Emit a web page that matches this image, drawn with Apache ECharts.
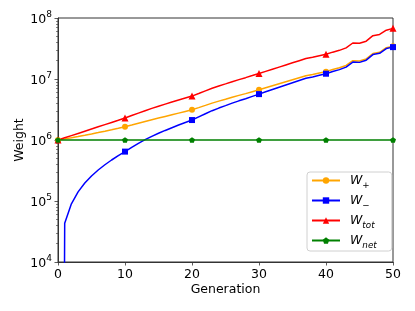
<!DOCTYPE html>
<html>
<head>
<meta charset="utf-8">
<script src="https://cdn.jsdelivr.net/npm/echarts@6/dist/echarts.min.js"></script>
<style>
html,body{margin:0;padding:0;background:#fff;}
#chart{width:415px;height:311px;}
</style>
</head>
<body>
<div id="chart"></div>
<script>
const gens = [0,1,2,3,4,5,6,7,8,9,10,11,12,13,14,15,16,17,18,19,20,21,22,23,24,25,26,27,28,29,30,31,32,33,34,35,36,37,38,39,40,41,42,43,44,45,46,47,48,49,50];
const wPlus = [1.000e6,1.043e6,1.090e6,1.141e6,1.197e6,1.257e6,1.322e6,1.393e6,1.470e6,1.554e6,1.645e6,
  1.759e6,1.881e6,2.012e6,2.148e6,2.288e6,2.435e6,2.592e6,2.758e6,2.936e6,3.124e6,
  3.391e6,3.692e6,4.024e6,4.337e6,4.659e6,5.018e6,5.386e6,5.760e6,6.188e6,6.652e6,
  7.168e6,7.727e6,8.334e6,8.991e6,9.704e6,1.0477e7,1.1314e7,1.1823e7,1.2494e7,1.3205e7,
  1.4271e7,1.5256e7,1.6680e7,1.9953e7,1.9730e7,2.1344e7,2.6143e7,2.7352e7,3.2548e7,3.4304e7];
const wMinus = [1e-20,4.32e4,9.0e4,1.41e5,1.97e5,2.57e5,3.22e5,3.93e5,4.70e5,5.54e5,6.45e5,
  7.59e5,8.81e5,1.012e6,1.148e6,1.288e6,1.435e6,1.592e6,1.758e6,1.936e6,2.124e6,
  2.391e6,2.692e6,3.024e6,3.337e6,3.659e6,4.018e6,4.386e6,4.760e6,5.188e6,5.652e6,
  6.168e6,6.727e6,7.334e6,7.991e6,8.704e6,9.477e6,1.0314e7,1.0823e7,1.1494e7,1.2205e7,
  1.3271e7,1.4256e7,1.5680e7,1.8953e7,1.8730e7,2.0344e7,2.5143e7,2.6352e7,3.1548e7,3.3304e7];
const wTot = [1.000e6,1.0864e6,1.1803e6,1.2823e6,1.3932e6,1.5136e6,1.6444e6,1.7865e6,1.9409e6,2.1086e6,2.2909e6,
  2.518e6,2.762e6,3.024e6,3.296e6,3.576e6,3.870e6,4.184e6,4.516e6,4.872e6,5.248e6,
  5.781e6,6.383e6,7.047e6,7.674e6,8.318e6,9.036e6,9.772e6,1.0520e7,1.1376e7,1.2303e7,
  1.3335e7,1.4454e7,1.5668e7,1.6982e7,1.8408e7,1.9953e7,2.1627e7,2.2646e7,2.3988e7,2.5410e7,
  2.7542e7,2.9512e7,3.2359e7,3.8905e7,3.8459e7,4.1687e7,5.1286e7,5.3703e7,6.3096e7,6.7608e7];
const wNet = [1e6,1e6,1e6,1e6,1e6,1e6,1e6,1e6,1e6,1e6,1e6,
  1e6,1e6,1e6,1e6,1e6,1e6,1e6,1e6,1e6,1e6,
  1e6,1e6,1e6,1e6,1e6,1e6,1e6,1e6,1e6,1e6,
  1e6,1e6,1e6,1e6,1e6,1e6,1e6,1e6,1e6,1e6,
  1e6,1e6,1e6,1e6,1e6,1e6,1e6,1e6,1e6,1e6];
const seriesNames = ['W+','W-','Wtot','Wnet'];
const legendLabels = {'W+':'+','W-':'\u2212','Wtot':'tot','Wnet':'net'};
const yMajor = [1e4,1e5,1e6,1e7,1e8];
const yMinor = [2e4,3e4,4e4,5e4,6e4,7e4,8e4,9e4,2e5,3e5,4e5,5e5,6e5,7e5,8e5,9e5,2e6,3e6,4e6,5e6,6e6,7e6,8e6,9e6,2e7,3e7,4e7,5e7,6e7,7e7,8e7,9e7];

const FONT = 'DejaVu Sans';
const pentagon = 'path://M0,-1 L0.951,-0.309 L0.588,0.809 L-0.588,0.809 L-0.951,-0.309 Z';
function pairs(vals){ return gens.map((g,i)=>[g, vals[i]]); }
function markEvery(size){ return function(v, p){ return p.dataIndex % 10 === 0 ? size : 0; }; }

const chart = echarts.init(document.getElementById('chart'), null, {renderer:'canvas'});
const mk = (name, vals, color, symbol, size) => ({
  name: name, type: 'line', data: pairs(vals), yAxisIndex: 0,
  symbol: symbol, symbolSize: markEvery(size), showAllSymbol: true, symbolKeepAspect: true,
  lineStyle: {color: color, width: 1.5}, itemStyle: {color: color},
  emphasis: {disabled: true}, animation: false, clip: true
});
chart.setOption({
  animation: false,
  textStyle: {fontFamily: FONT},
  grid: {left: 58, right: 22, top: 18, bottom: 49, show: true, borderColor: '#333', borderWidth: 1, backgroundColor: 'transparent'},
  legend: {
    orient: 'vertical', left: 307, top: 172,
    data: seriesNames,
    itemWidth: 28, itemHeight: 8, itemGap: 4,
    padding: [2, 15, 1, 4],
    backgroundColor: 'rgba(255,255,255,0.85)', borderColor: '#d0d0d0', borderWidth: 1, borderRadius: 3,
    formatter: function(n){ return '{w|W}{s|' + legendLabels[n] + '}'; },
    textStyle: {
      fontFamily: FONT, color: '#000',
      rich: {
        w: {fontFamily: FONT, fontStyle: 'italic', fontSize: 12.5, color: '#000', lineHeight: 15, verticalAlign: 'middle', padding: [0,0,0,5]},
        s: {fontFamily: FONT, fontStyle: 'italic', fontSize: 8.75, color: '#000', lineHeight: 15, verticalAlign: 'bottom', padding: [0,0,-2,0]}
      }
    }
  },
  xAxis: {
    type: 'value', min: 0, max: 50, interval: 10,
    name: 'Generation', nameLocation: 'middle', nameGap: 21, nameMoveOverlap: false,
    nameTextStyle: {fontFamily: FONT, fontSize: 12.5, color: '#000'},
    axisLine: {lineStyle: {color: '#333', width: 1}},
    axisTick: {length: 3.5, lineStyle: {color: '#333', width: 0.8}},
    axisLabel: {fontFamily: FONT, fontSize: 12.5, color: '#000', margin: 6},
    splitLine: {show: false}
  },
  yAxis: [{
    type: 'log', logBase: 10, min: 1e4, max: 1e8,
    name: 'Weight', nameLocation: 'middle', nameGap: 32, nameMoveOverlap: false,
    nameTextStyle: {fontFamily: FONT, fontSize: 12.5, color: '#000'},
    axisLine: {show: true, lineStyle: {color: '#333', width: 1}},
    axisTick: {show: true, length: 3.5, customValues: yMajor, lineStyle: {color: '#333', width: 0.8}},
    axisLabel: {
      customValues: yMajor, margin: 6,
      formatter: function(v){ return '{a|10}{b|' + Math.round(Math.log10(v)) + '}'; },
      rich: {
        a: {fontFamily: FONT, fontSize: 12.5, color: '#000', lineHeight: 16, verticalAlign: 'bottom'},
        b: {fontFamily: FONT, fontSize: 9, color: '#000', lineHeight: 16, verticalAlign: 'top'}
      }
    },
    splitLine: {show: false}
  }, {
    type: 'log', logBase: 10, min: 1e4, max: 1e8, position: 'left', offset: 0,
    axisLine: {show: false},
    axisTick: {show: true, length: 2, customValues: yMinor, lineStyle: {color: '#333', width: 0.6}},
    axisLabel: {show: false},
    splitLine: {show: false}
  }],
  series: [
    mk('W+', wPlus, '#FFA500', 'circle', 6),
    mk('W-', wMinus, '#0000FF', 'rect', 6),
    mk('Wtot', wTot, '#FF0000', 'triangle', 7),
    mk('Wnet', wNet, '#008000', pentagon, 6)
  ]
});
</script>
</body>
</html>
